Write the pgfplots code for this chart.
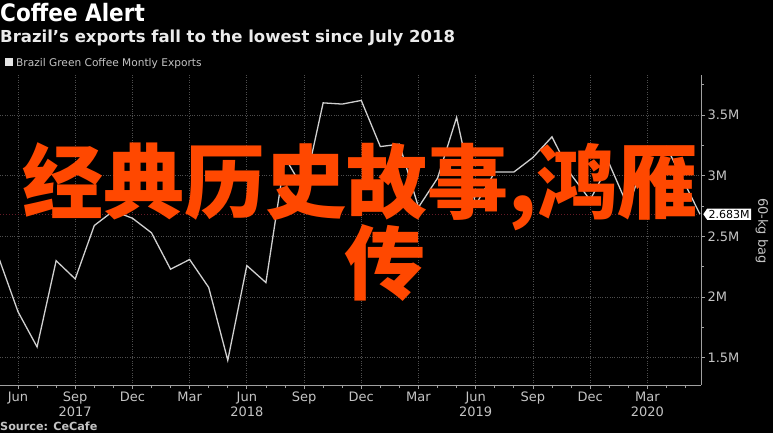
\documentclass[border=0pt]{standalone}
\usepackage{fontspec}
\setmainfont{DejaVu Sans}
\newfontfamily\condfont{DejaVu Sans Condensed}
\newfontfamily\cjk{Noto Sans CJK SC}
\usepackage{pgfplots}
\pgfplotsset{compat=1.18}
\usetikzlibrary{shapes.symbols}
\definecolor{axisgray}{HTML}{A0A0A0}
\definecolor{gridgray}{HTML}{4E4E4E}
\definecolor{ticktext}{HTML}{C4C4C4}
\definecolor{linecol}{HTML}{D0D0D0}
\definecolor{darkred}{HTML}{641A26}
\definecolor{cjkorange}{HTML}{FF4800}
\begin{document}
\begin{tikzpicture}[x=1pt,y=1pt]
\fill[black] (0,0) rectangle (773,433);
\useasboundingbox (0,0) rectangle (773,433);
% titles
\node[anchor=base west, inner sep=0, text=white, font=\condfont\bfseries\fontsize{24}{24}\selectfont] at (0,411) {Coffee Alert};
\node[anchor=base west, inner sep=0, text=white!92!black, font=\bfseries\fontsize{16.5}{16.5}\selectfont] at (0,390) {Brazil's exports fall to the lowest since July 2018};
\fill[white!90!black] (5,367) rectangle (13,375);
\node[anchor=base west, inner sep=0, text=ticktext, font=\fontsize{10.6}{10.6}\selectfont] at (16,366) {Brazil Green Coffee Montly Exports};
\node[anchor=base west, inner sep=0, text=ticktext, font=\bfseries\fontsize{11.2}{11.2}\selectfont] at (0,2) {Source: CeCafe};
\node[rotate=-90, text=ticktext, font=\fontsize{13}{13}\selectfont] at (762,202) {60-kg bag};
\begin{axis}[
  at={(0pt,48pt)}, anchor=south west,
  scale only axis, width=701pt, height=310pt,
  xmin=-0.944, xmax=35.815, ymin=1.276, ymax=3.829,
  axis x line*=bottom, axis y line*=right,
  axis line style={draw=axisgray, line width=0.8pt, -},
  tick align=outside,
  xtick={0,3,...,33},
  xticklabels={Jun,Sep,Dec,Mar,Jun,Sep,Dec,Mar,Jun,Sep,Dec,Mar},
  minor xtick={-1,0,...,35},
  ytick={1.5,2,2.5,3,3.5},
  yticklabels={1.5M,2M,2.5M,3M,3.5M},
  minor ytick={1.75,2.25,2.75,3.25,3.75},
  major tick length=4pt, minor tick length=3pt,
  every tick/.style={draw=axisgray, line width=0.8pt},
  grid=major,
  major grid style={draw=gridgray, dotted, line width=0.8pt},
  ticklabel style={text=ticktext, font=\fontsize{13}{13}\selectfont},
  yticklabel style={anchor=west, xshift=-1pt},
  xticklabel style={yshift=1pt},
  /pgf/number format/assume math mode=true,
  clip mode=individual,
]
\addplot[draw=darkred, dotted, line width=1pt] coordinates {(-0.944,2.683) (35.815,2.683)};
\addplot[draw=linecol, line width=1.3pt] coordinates {
(-1,2.32) (0,1.88) (1,1.59) (2,2.30) (3,2.15) (4,2.59) (5,2.71) (6,2.65)
(7,2.53) (8,2.23) (9,2.31) (10,2.08) (11,1.48) (12,2.26) (13,2.12) (14,3.15)
(15,2.88) (16,3.60) (17,3.59) (18,3.62) (19,3.24) (20,3.26) (21,2.74) (22,2.98)
(23,3.48) (24,2.76) (25,3.03) (26,3.03) (27,3.15) (28,3.32) (29,3.01) (30,2.80)
(31,3.10) (32,2.74) (33,3.20) (34,3.24) (35.76,2.683)
};
% year labels and separators
\draw[draw=gridgray!80!white, line width=0.8pt] (axis cs:6,1.276) ++(0,-15) -- ++(0,-22);
\draw[draw=gridgray!80!white, line width=0.8pt] (axis cs:18,1.276) ++(0,-15) -- ++(0,-22);
\draw[draw=gridgray!80!white, line width=0.8pt] (axis cs:30,1.276) ++(0,-15) -- ++(0,-22);
\node[anchor=base, text=ticktext, font=\fontsize{13}{13}\selectfont] at (axis cs:3,1.276) [yshift=-31pt] {2017};
\node[anchor=base, text=ticktext, font=\fontsize{13}{13}\selectfont] at (axis cs:12,1.276) [yshift=-31pt] {2018};
\node[anchor=base, text=ticktext, font=\fontsize{13}{13}\selectfont] at (axis cs:24,1.276) [yshift=-31pt] {2019};
\node[anchor=base, text=ticktext, font=\fontsize{13}{13}\selectfont] at (axis cs:33,1.276) [yshift=-31pt] {2020};
\node[signal, signal to=west, signal pointer angle=110, fill=white, text=black, inner sep=1.5pt, anchor=west, font=\fontsize{11}{11}\selectfont] at (axis cs:35.815,2.683) [xshift=2pt] {2.683M};
\end{axis}
% overlay text
\node[anchor=base west, inner sep=0, text=cjkorange, font=\cjk\bfseries\fontsize{81}{81}\selectfont] at (22,220) {经典历史故事,鸿雁};
\node[anchor=base west, inner sep=0, text=cjkorange, font=\cjk\bfseries\fontsize{81}{81}\selectfont] at (344,139) {传};
\end{tikzpicture}
\end{document}
